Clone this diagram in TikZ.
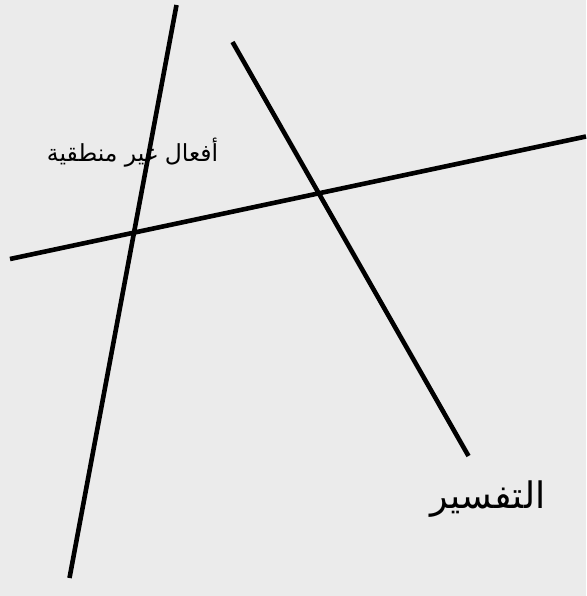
\documentclass[tikz,border=0pt]{standalone}
\usepackage{fontspec}
\newfontfamily\arabicfont[Script=Arabic]{DejaVu Sans}
\TeXXeTstate=1
\definecolor{sketchBg}{HTML}{EBEBEB}
\definecolor{sketchInk}{HTML}{000000}
\tikzset{
  sketch diagram/.style={
    x=1pt, y=-1pt,
    every node/.style={text=sketchInk, inner sep=0pt, outer sep=0pt}
  },
  sketch line/.style={draw=sketchInk, line width=4.6pt},
  sketch small/.style={font=\arabicfont\fontsize{23.5}{28}\selectfont},
  sketch big/.style={font=\arabicfont\fontsize{36.5}{44}\selectfont}
}

\begin{document}
\begin{tikzpicture}[sketch diagram]
    \fill[sketchBg] (0,0) rectangle (586,596);
    \useasboundingbox (0,0) rectangle (586,596);
    \node[sketch small] (irrational) at (132.5,153) {\beginR أفعال غير منطقية\endR};
    \node[sketch big] (interpretation) at (488,499) {\beginR التفسير\endR};
    \coordinate (aTop) at (176.5,5);
    \coordinate (aBot) at (69.5,578);
    \coordinate (bTop) at (232.5,42);
    \coordinate (bBot) at (468.5,456);
    \coordinate (cLeft) at (10,259);
    \coordinate (cRight) at (586,136.5);
    \draw[sketch line] (aTop) -- (aBot);
    \draw[sketch line] (bTop) -- (bBot);
    \draw[sketch line] (cLeft) -- (cRight);
\end{tikzpicture}
\end{document}
